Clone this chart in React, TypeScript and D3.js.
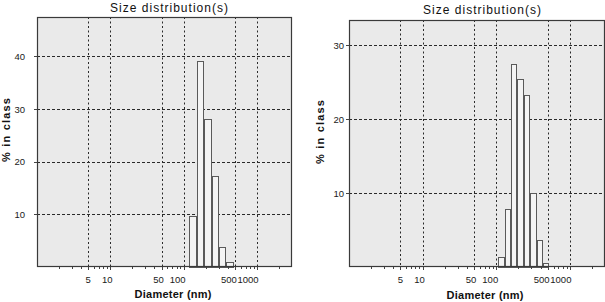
import React from "react";
import * as d3 from "d3";

// ---- data ----
const chartTitle = "Size distribution(s)";
const xAxisLabel = "Diameter (nm)";
const yAxisLabel = "% in class";

const xTickValues = [5, 10, 50, 100, 500, 1000];
const xTickLabels = ["5", "10", "50", "100", "500", "1000"];

// left panel: bin edges (nm) and % per class
const leftBinEdges = [120, 151, 191, 240, 302, 380, 479];
const leftPercent = [9.7, 39.2, 28.2, 17.3, 3.8, 1.0];
const leftYTicks = [10, 20, 30, 40];

// right panel
const rightBinEdges = [106, 130, 159, 194, 237, 290, 354, 432, 528];
const rightPercent = [1.3, 7.9, 27.5, 25.4, 23.3, 10.0, 3.7, 0.5];
const rightYTicks = [10, 20, 30];

type PanelProps = {
  left: number;
  right: number;
  top: number;
  bottom: number;
  yMax: number;
  edges: number[];
  values: number[];
  yTicks: number[];
  titleX: number;
  titleY: number;
  yLabelX: number;
  yLabelY: number;
  yTickRight: number;
  xLabelX: number;
  xLabelY: number;
};

const FONT = "'Liberation Sans', Arial, sans-serif";

function Panel(p: PanelProps) {
  const x = d3.scaleLog().domain([1, 3000]).range([p.left, p.right]);
  const y = d3.scaleLinear().domain([0, p.yMax]).range([p.bottom, p.top]);
  const crisp = (v: number) => Math.round(v) + 0.5;

  const minor: number[] = [];
  [1, 10, 100, 1000].forEach((d) => {
    for (let m = 1; m <= 9; m++) {
      const v = m * d;
      if (v > 1 && v < 3000) minor.push(v);
    }
  });

  const bars = p.values.map((v, i) => ({
    x0: x(p.edges[i]),
    x1: x(p.edges[i + 1]),
    v,
  }));

  return (
    <g>
      <rect
        x={p.left}
        y={p.top}
        width={p.right - p.left}
        height={p.bottom - p.top}
        fill="#eaeaea"
      />
      {/* vertical grid */}
      {xTickValues.map((v) => (
        <line
          key={"vg" + v}
          x1={crisp(x(v))}
          x2={crisp(x(v))}
          y1={p.top}
          y2={p.bottom}
          stroke="#2a2a2a"
          strokeWidth={1}
          strokeDasharray="2,2.5"
        />
      ))}
      {/* horizontal grid */}
      {p.yTicks.map((v) => (
        <line
          key={"hg" + v}
          x1={p.left}
          x2={p.right}
          y1={crisp(y(v))}
          y2={crisp(y(v))}
          stroke="#2a2a2a"
          strokeWidth={1}
          strokeDasharray="3,2"
        />
      ))}
      {/* bars */}
      {bars.map((b, i) => (
        <rect
          key={"b" + i}
          x={Math.round(b.x0) + 0.5}
          y={Math.round(y(b.v)) + 0.5}
          width={Math.max(1, Math.round(b.x1) - Math.round(b.x0) - 1)}
          height={Math.round(p.bottom) - Math.round(y(b.v))}
          fill="#f4f4f4"
          stroke="#5a5a5a"
          strokeWidth={1}
        />
      ))}
      {/* frame */}
      <rect
        x={p.left + 0.5}
        y={p.top + 0.5}
        width={p.right - p.left - 1}
        height={p.bottom - p.top - 1}
        fill="none"
        stroke="#3a3a3a"
        strokeWidth={1.2}
      />
      {/* x ticks */}
      {minor.map((v) => (
        <line
          key={"mt" + v}
          x1={crisp(x(v))}
          x2={crisp(x(v))}
          y1={p.bottom}
          y2={p.bottom + (xTickValues.includes(v) ? 3 : 2)}
          stroke="#444"
          strokeWidth={1}
        />
      ))}
      {xTickValues.map((v, i) => (
        <text
          key={"xl" + v}
          x={x(v) - (xTickLabels[i].length - 1) * 3}
          y={p.bottom + 16}
          textAnchor="middle"
          fontFamily={FONT}
          fontSize={9.5}
          fill="#1a1a1a"
        >
          {xTickLabels[i]}
        </text>
      ))}
      {/* y ticks */}
      {p.yTicks.map((v) => (
        <g key={"yt" + v}>
          <line
            x1={p.left - 3}
            x2={p.left}
            y1={crisp(y(v))}
            y2={crisp(y(v))}
            stroke="#444"
            strokeWidth={1}
          />
          <text
            x={p.yTickRight}
            y={y(v) + 3.5}
            textAnchor="end"
            fontFamily={FONT}
            fontSize={9.5}
            fill="#1a1a1a"
          >
            {v}
          </text>
        </g>
      ))}
      {/* title */}
      <text
        x={p.titleX}
        y={p.titleY}
        textAnchor="middle"
        fontFamily={FONT}
        fontSize={12}
        fill="#111"
        textLength={118}
        lengthAdjust="spacing"
      >
        {chartTitle}
      </text>
      {/* x label */}
      <text
        x={p.xLabelX}
        y={p.xLabelY}
        textAnchor="middle"
        fontFamily={FONT}
        fontSize={11}
        fontWeight="bold"
        fill="#111"
        textLength={77}
        lengthAdjust="spacing"
      >
        {xAxisLabel}
      </text>
      {/* y label */}
      <text
        transform={`translate(${p.yLabelX},${p.yLabelY}) rotate(-90)`}
        textAnchor="middle"
        fontFamily={FONT}
        fontSize={11}
        fontWeight="bold"
        fill="#111"
        textLength={64}
        lengthAdjust="spacing"
      >
        {yAxisLabel}
      </text>
    </g>
  );
}

export default function App() {
  return (
    <svg
      width={605}
      height={302}
      style={{ position: "absolute", left: 0, top: 0, background: "#fff" }}
    >
      <Panel
        left={37}
        right={292}
        top={17}
        bottom={267}
        yMax={47.5}
        edges={leftBinEdges}
        values={leftPercent}
        yTicks={leftYTicks}
        titleX={169}
        titleY={12}
        yLabelX={10}
        yLabelY={130}
        yTickRight={25}
        xLabelX={173}
        xLabelY={298}
      />
      <Panel
        left={349}
        right={605}
        top={20}
        bottom={267}
        yMax={33.4}
        edges={rightBinEdges}
        values={rightPercent}
        yTicks={rightYTicks}
        titleX={482}
        titleY={14}
        yLabelX={324}
        yLabelY={132}
        yTickRight={344}
        xLabelX={485}
        xLabelY={299}
      />
    </svg>
  );
}
